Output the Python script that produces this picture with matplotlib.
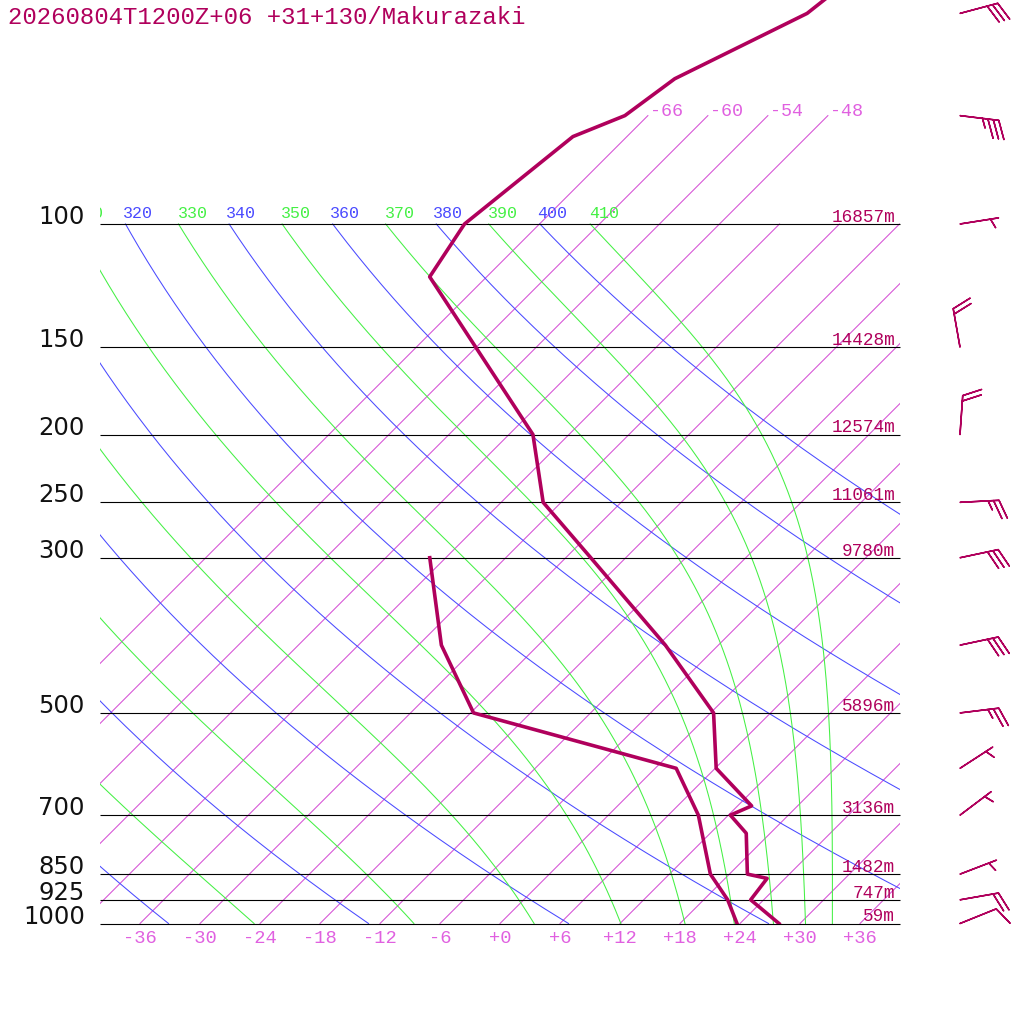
"""
Skew-T 探空图：Makurazaki 20260804T1200Z +06
等温线 / 干绝热线 / 湿绝热线背景 + 温度、露点廓线 + 风羽
"""
import matplotlib
matplotlib.use('Agg')
import matplotlib.pyplot as plt
from matplotlib.ticker import NullLocator
import numpy as np

# ---- 探空数据 ----
temp_p = [1000, 925, 862, 850, 743, 700, 679, 600, 500, 400, 300, 250, 200,
          119, 100, 75, 70, 62, 50, 40]
temp_t = [27.9, 22.7, 22.2, 19.8, 15.6, 12.2, 13.4, 6.1, 0.3, -11.3, -27.5,
          -37.8, -45.6, -71.7, -73.5, -71.4, -68.3, -67.0, -60.3, -58.5]

dew_p = [1000, 925, 850, 700, 600, 500, 400, 300]
dew_t = [23.7, 20.4, 16.1, 9.0, 2.1, -23.7, -33.7, -43.6]

wind_p = [1000, 925, 850, 700, 600, 500, 400, 300, 250, 200, 150, 100, 70, 50]
wind_dir = [68, 80, 69, 53, 57, 83, 78, 78, 87, 4, 350, 81, 97, 75]
wind_spd = [10, 20, 5, 5, 5, 25, 30, 30, 25, 20, 20, 5, 35, 30]

levels = [100, 150, 200, 250, 300, 500, 700, 850, 925, 1000]
level_labels = ['100', '150', '200', '250', '300', '500', '700', '850', '925', '1000']
heights = ['16857m', '14428m', '12574m', '11061m', '9780m', '5896m', '3136m',
           '1482m', '747m', '59m']

isotherms = list(range(-66, 37, 6))
dry_theta = list(range(240, 401, 20))
moist_thetae = list(range(250, 411, 20))
temp_ticks = list(range(-36, 37, 6))

title = '20260804T1200Z+06 +31+130/Makurazaki'

# ---- 样式 ----
CURVE_C = '#b0005c'
ISO_C = '#d650d6'
ISO_LABEL_C = '#e060e0'
DRY_C = '#4a4aff'
MOIST_C = '#44f044'
MONO = 'Liberation Mono'

SKEW = 30.38                      # 每个 ln(p) 单位的温度偏移 (45 度)
P_TOP = 1000.0 * np.exp(-923.5 / 303.8)


def skew_x(t, p):
    return np.asarray(t, dtype=float) + SKEW * np.log(1000.0 / np.asarray(p, dtype=float))


def theta_e(tk, p):
    """Bolton (1980) 饱和相当位温"""
    tc = tk - 273.15
    es = 6.112 * np.exp(17.67 * tc / (tc + 243.5))
    es = np.minimum(es, 0.5 * p)
    r = 622.0 * es / (p - es)
    th = tk * (1000.0 / p) ** (0.2854 * (1 - 0.00028 * r))
    return th * np.exp((3.376 / tk - 0.00254) * r * (1 + 0.00081 * r))


def moist_t(te, p):
    lo = np.full_like(p, 150.0)
    hi = np.full_like(p, 320.0)
    for _ in range(60):
        mid = 0.5 * (lo + hi)
        big = theta_e(mid, p) > te
        hi = np.where(big, mid, hi)
        lo = np.where(big, lo, mid)
    return 0.5 * (lo + hi) - 273.15


fig = plt.figure(figsize=(10.24, 10.24), dpi=100)
ax = fig.add_axes([100 / 1024, (1024 - 923.5) / 1024, 800 / 1024, 923.5 / 1024])
ax.set_facecolor('none')
ax.set_yscale('log')
ax.set_xlim(-40, 40)
ax.set_ylim(1000, P_TOP)
ax.yaxis.set_major_locator(NullLocator())
ax.yaxis.set_minor_locator(NullLocator())
for s in ax.spines.values():
    s.set_visible(False)

# 等压线
ax.hlines(levels, -40, 40, colors='black', lw=0.8, zorder=3, clip_on=False)

# 等温线
for t in isotherms:
    ptop = 70 if t <= -48 else 100
    pp = np.geomspace(1000, ptop, 60)
    ax.plot(skew_x(t, pp), pp, color=ISO_C, lw=0.75, zorder=1)
    if t <= -48:
        ax.text(skew_x(t, ptop) + 0.2, ptop, f'{t:d}', color=ISO_LABEL_C,
                fontsize=13.2, family=MONO, ha='left', va='baseline')

pp = np.geomspace(1000, 100, 150)
# 干绝热线（标注在 100 hPa 之上，左侧超出图区的不标）
for th in dry_theta:
    tt = th * (pp / 1000.0) ** 0.2857 - 273.15
    ax.plot(skew_x(tt, pp), pp, color=DRY_C, lw=0.75, zorder=1)
    x100 = skew_x(tt[-1], 100)
    if x100 > -43.5:
        ax.text(x100 - 0.3, 98.2, str(th), color=DRY_C, fontsize=12,
                family=MONO, ha='left', va='baseline', clip_on=True)

# 湿绝热线
for te in moist_thetae:
    tt = moist_t(te, pp)
    ax.plot(skew_x(tt, pp), pp, color=MOIST_C, lw=0.75, zorder=1)
    x100 = skew_x(tt[-1], 100)
    if x100 > -43.5:
        ax.text(x100 - 0.1, 98.2, str(te), color=MOIST_C, fontsize=12,
                family=MONO, ha='left', va='baseline', clip_on=True)

# 温度、露点
ax.plot(skew_x(temp_t, temp_p), temp_p, color=CURVE_C, lw=2.6, zorder=5)
ax.plot(skew_x(dew_t, dew_p), dew_p, color=CURVE_C, lw=2.6, zorder=5)

# 气压与高度标注
for p, lbl, h in zip(levels, level_labels, heights):
    ax.text(-41.5, p, lbl, ha='right', va='baseline', fontsize=17.5,
            family='DejaVu Sans', color='#111111', clip_on=False)
    ax.text(39.5, p * 0.993, h, ha='right', va='baseline', fontsize=12.8,
            family=MONO, color=CURVE_C, zorder=6)

# 温度刻度
ax.set_xticks(temp_ticks, [f'{t:+d}' for t in temp_ticks], fontfamily=MONO)
ax.tick_params(axis='x', length=0, pad=5, labelsize=13.5, labelcolor=ISO_LABEL_C)

# 风羽
d = np.deg2rad(wind_dir)
spd = np.asarray(wind_spd, dtype=float)
u = -spd * np.sin(d)
v = -spd * np.cos(d)
ax.barbs(np.full(len(wind_p), 46.0), wind_p, u, v, length=7.5,
         sizes=dict(spacing=0.14, height=0.47, width=0.38),
         color=CURVE_C, lw=1.1, clip_on=False)

fig.text(8 / 1024, 1 - 24 / 1024, title, family=MONO, fontsize=17.3,
         color=CURVE_C, ha='left', va='baseline')

fig.savefig('out.png', dpi=100)
